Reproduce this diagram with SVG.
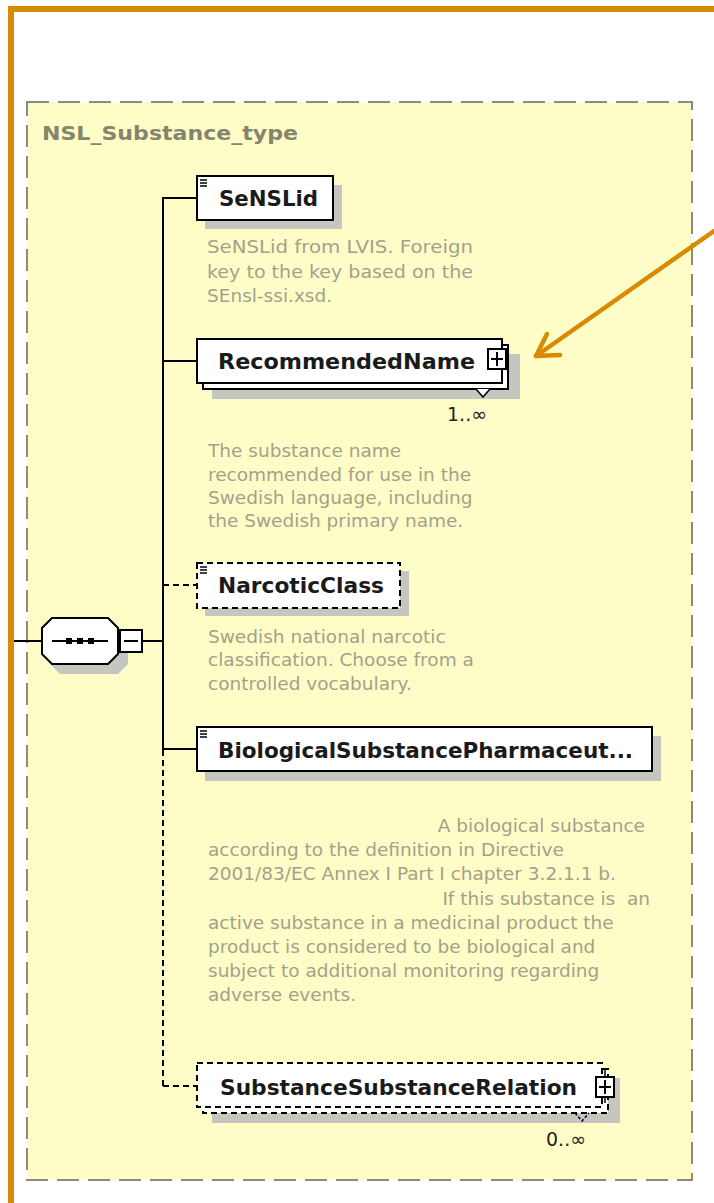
<svg xmlns="http://www.w3.org/2000/svg" width="714" height="1203" viewBox="0 0 714 1203">
<defs>
<style>
.frame{fill:none;stroke:#d88b00;stroke-width:6}
.cbox{fill:#fefdc8;stroke:#8c8c78;stroke-width:2;stroke-dasharray:22 9}
.ctitle{font-family:"DejaVu Sans",sans-serif;font-weight:bold;font-size:20px;fill:#85856c}
.box{fill:#fff;stroke:#000;stroke-width:2}
.dbox{fill:#fff;stroke:#000;stroke-width:2;stroke-dasharray:6 4}
.shadow{fill:#c6c6c0}
.title{font-family:"DejaVu Sans",sans-serif;font-weight:bold;font-size:21px;fill:#1a1a1a}
.desc{font-family:"DejaVu Sans",sans-serif;font-size:18.5px;fill:#a2a28a}
.card{font-family:"DejaVu Sans",sans-serif;font-size:19px;fill:#222}
.conn{stroke:#000;stroke-width:2;fill:none}
.dconn{stroke:#000;stroke-width:2;fill:none;stroke-dasharray:6 4}
.icon{stroke:#000;stroke-width:1.5}
.arrow{stroke:#d88b00;stroke-width:4.5;fill:none;stroke-linecap:round;stroke-linejoin:round}
</style>
</defs>
<rect width="714" height="1203" fill="#fff"/>
<rect class="frame" x="11" y="9" width="720" height="1220"/>
<g id="container">
<rect class="cbox" x="27" y="102" width="665" height="1078"/>
<text class="ctitle" x="42" y="140" textLength="256" lengthAdjust="spacingAndGlyphs">NSL_Substance_type</text>
</g>
<g id="connectors">
<line class="conn" x1="14" y1="641" x2="42" y2="641"/>
<line class="conn" x1="142" y1="641" x2="163" y2="641"/>
<line class="conn" x1="163" y1="197" x2="163" y2="750"/>
<line class="dconn" x1="163" y1="750" x2="163" y2="1086"/>
<line class="conn" x1="163" y1="198" x2="197" y2="198"/>
<line class="conn" x1="163" y1="361" x2="197" y2="361"/>
<line class="dconn" x1="163" y1="585" x2="197" y2="585"/>
<line class="conn" x1="163" y1="749" x2="197" y2="749"/>
<line class="dconn" x1="163" y1="1086" x2="197" y2="1086"/>
</g>
<g id="sequence">
<polygon class="shadow" points="60,628 118,628 128,638 128,664 118,674 60,674 50,664 50,638"/>
<polygon class="box" points="52,618 108,618 118,628 118,654 108,664 52,664 42,654 42,628"/>
<line class="conn" x1="52" y1="641" x2="108" y2="641"/>
<rect x="66" y="638" width="6" height="6" fill="#000"/>
<rect x="77" y="638" width="6" height="6" fill="#000"/>
<rect x="88" y="638" width="6" height="6" fill="#000"/>
<rect class="box" x="120" y="630" width="22" height="22"/>
<line class="conn" x1="124" y1="641" x2="138" y2="641"/>
</g>
<g id="SeNSLid">
<rect class="shadow" x="205" y="185" width="137" height="44"/>
<rect class="box" x="197" y="176" width="136" height="44"/>
<g class="icon"><line x1="200" y1="180" x2="207" y2="180"/><line x1="200" y1="183" x2="207" y2="183"/><line x1="200" y1="186" x2="207" y2="186"/></g>
<text class="title" x="219" y="206" textLength="99" lengthAdjust="spacingAndGlyphs">SeNSLid</text>
<text class="desc" x="207" y="253" textLength="266" lengthAdjust="spacingAndGlyphs">SeNSLid from LVIS. Foreign</text>
<text class="desc" x="207" y="278" textLength="266" lengthAdjust="spacingAndGlyphs">key to the key based on the</text>
<text class="desc" x="207" y="302">SEnsl-ssi.xsd.</text>
</g>
<g id="RecommendedName">
<rect class="shadow" x="212" y="354" width="308" height="45"/>
<rect class="box" x="203" y="345" width="305" height="44"/>
<rect class="box" x="197" y="339" width="305" height="44"/>
<text class="title" x="218" y="369" textLength="257" lengthAdjust="spacingAndGlyphs">RecommendedName</text>
<rect class="box" x="488" y="349" width="18" height="20"/>
<line class="conn" x1="491" y1="359" x2="503" y2="359"/>
<line class="conn" x1="497" y1="352" x2="497" y2="366"/>
<polyline points="476,389 483,397 490,389" fill="#fff" stroke="#000" stroke-width="1.5"/>
<text class="card" x="447" y="421">1..∞</text>
<text class="desc" x="208" y="457">The substance name</text>
<text class="desc" x="208" y="481">recommended for use in the</text>
<text class="desc" x="208" y="504">Swedish language, including</text>
<text class="desc" x="208" y="527">the Swedish primary name.</text>
</g>
<g id="NarcoticClass">
<rect class="shadow" x="205" y="571" width="204" height="45"/>
<rect class="dbox" x="197" y="563" width="203" height="45"/>
<g class="icon"><line x1="200" y1="567" x2="207" y2="567"/><line x1="200" y1="570" x2="207" y2="570"/><line x1="200" y1="573" x2="207" y2="573"/></g>
<text class="title" x="218" y="593" textLength="166" lengthAdjust="spacingAndGlyphs">NarcoticClass</text>
<text class="desc" x="208" y="643">Swedish national narcotic</text>
<text class="desc" x="208" y="666">classification. Choose from a</text>
<text class="desc" x="208" y="690">controlled vocabulary.</text>
</g>
<g id="BiologicalSubstancePharmaceutical">
<rect class="shadow" x="205" y="736" width="456" height="45"/>
<rect class="box" x="197" y="727" width="455" height="44"/>
<g class="icon"><line x1="200" y1="731" x2="207" y2="731"/><line x1="200" y1="734" x2="207" y2="734"/><line x1="200" y1="737" x2="207" y2="737"/></g>
<text class="title" x="218" y="758" textLength="415" lengthAdjust="spacingAndGlyphs">BiologicalSubstancePharmaceut...</text>
<text class="desc" x="645" y="832" text-anchor="end">A biological substance</text>
<text class="desc" x="208" y="856">according to the definition in Directive</text>
<text class="desc" x="208" y="880">2001/83/EC Annex I Part I chapter 3.2.1.1 b.</text>
<text class="desc" x="650" y="905" text-anchor="end" xml:space="preserve">If this substance is  an</text>
<text class="desc" x="208" y="929">active substance in a medicinal product the</text>
<text class="desc" x="208" y="953">product is considered to be biological and</text>
<text class="desc" x="208" y="977">subject to additional monitoring regarding</text>
<text class="desc" x="208" y="1001">adverse events.</text>
</g>
<g id="SubstanceSubstanceRelation">
<rect class="shadow" x="212" y="1078" width="408" height="45"/>
<rect class="dbox" x="203" y="1069" width="405" height="44"/>
<rect class="dbox" x="197" y="1063" width="405" height="44"/>
<text class="title" x="220" y="1095" textLength="357" lengthAdjust="spacingAndGlyphs">SubstanceSubstanceRelation</text>
<line class="icon" x1="605" y1="1070" x2="605" y2="1077"/>
<line class="icon" x1="605" y1="1097" x2="605" y2="1103"/>
<rect class="box" x="596" y="1077" width="18" height="20"/>
<line class="conn" x1="599" y1="1087" x2="611" y2="1087"/>
<line class="conn" x1="605" y1="1080" x2="605" y2="1094"/>
<polyline points="575,1113 582,1121 589,1113" fill="none" stroke="#000" stroke-width="1.5" stroke-dasharray="3 2"/>
<text class="card" x="546" y="1146">0..∞</text>
</g>
<g id="callout">
<line class="arrow" x1="714" y1="231" x2="536" y2="356"/>
<polyline class="arrow" points="547,334 536,356 560,355"/>
</g>
</svg>
